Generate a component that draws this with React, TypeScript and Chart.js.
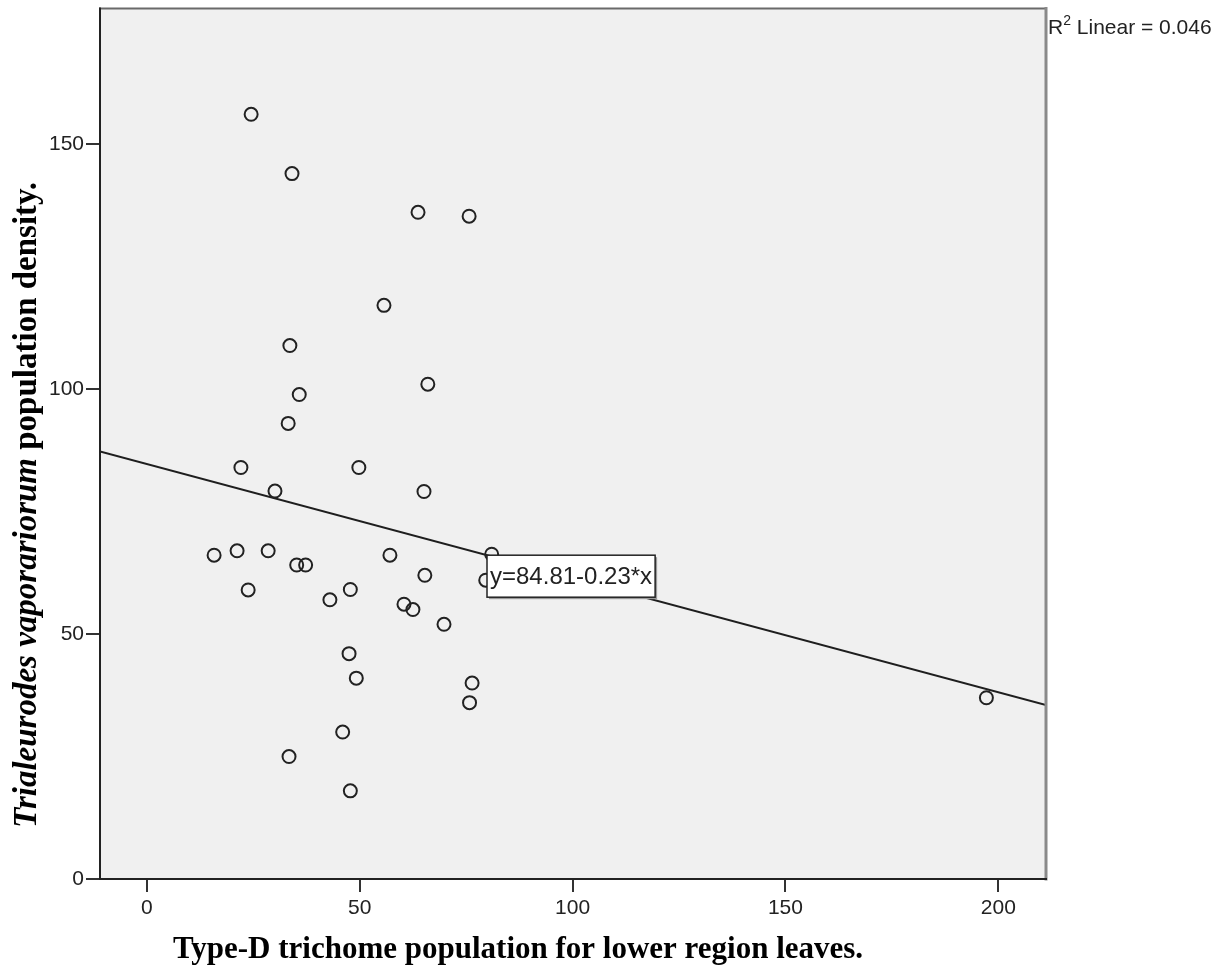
import React, { useEffect, useRef } from "react";
import { Chart, registerables } from "chart.js";

Chart.register(...registerables);

// Observed points (Type-D trichome population, T. vaporariorum density)
const trichomeX = [
  24.5, 34.1, 63.7, 75.7, 55.7, 33.6, 66.0, 35.8, 33.2, 22.1, 49.8, 30.1,
  65.1, 15.8, 21.2, 28.5, 35.2, 37.3, 57.1, 81.0, 65.3, 79.6, 23.8, 47.8,
  43.0, 60.4, 62.5, 69.8, 47.5, 49.2, 76.4, 75.8, 46.0, 33.4, 47.8, 197.2,
];
const densityY = [
  156.1, 144.0, 136.1, 135.3, 117.1, 108.9, 101.0, 98.9, 93.0, 84.0, 84.0, 79.2,
  79.1, 66.1, 67.0, 67.0, 64.1, 64.1, 66.1, 66.3, 62.0, 61.0, 59.0, 59.1,
  57.0, 56.1, 55.0, 52.0, 46.0, 41.0, 40.0, 36.0, 30.0, 25.0, 18.0, 37.0,
];

// Fit line endpoints (spans the full x range)
const fitX = [-11, 211.2];
const fitY = [87.3, 35.5];

const xTicks = [0, 50, 100, 150, 200];
const yTicks = [0, 50, 100, 150];

const xTitle = "Type-D trichome population for lower region leaves.";
const yTitleItalic = "Trialeurodes vaporariorum";
const yTitleRest = " population density.";
const fitLabel = "y=84.81-0.23*x";
const fitLabelAnchor = { x: 79.9, y: 66.1 };
const r2Label = { pre: "R", sup: "2", post: " Linear = 0.046" };

const SANS = '"Liberation Sans", Arial, sans-serif';
const SERIF = '"Liberation Serif", "Times New Roman", serif';

const framePlugin = {
  id: "framePlugin",
  beforeDatasetsDraw(chart: any) {
    const { ctx, chartArea: a } = chart;
    ctx.save();
    ctx.fillStyle = "#f0f0f0";
    ctx.fillRect(a.left, a.top, a.right - a.left, a.bottom - a.top);
    ctx.restore();
  },
  afterDraw(chart: any) {
    const { ctx, chartArea: a } = chart;
    const xs = chart.scales.x;
    const ys = chart.scales.y;
    ctx.save();
    // frame
    ctx.lineCap = "square";
    ctx.strokeStyle = "#6a6a6a";
    ctx.lineWidth = 2;
    ctx.beginPath();
    ctx.moveTo(a.left, a.top);
    ctx.lineTo(a.right, a.top);
    ctx.stroke();
    ctx.strokeStyle = "#8a8a8a";
    ctx.lineWidth = 3;
    ctx.beginPath();
    ctx.moveTo(a.right, a.top);
    ctx.lineTo(a.right, a.bottom);
    ctx.stroke();
    ctx.strokeStyle = "#222";
    ctx.lineWidth = 2;
    ctx.beginPath();
    ctx.moveTo(a.left, a.top);
    ctx.lineTo(a.left, a.bottom);
    ctx.lineTo(a.right, a.bottom);
    ctx.stroke();

    // fit label box
    ctx.font = `24px ${SANS}`;
    const w = ctx.measureText(fitLabel).width;
    const bx = xs.getPixelForValue(fitLabelAnchor.x);
    const by = ys.getPixelForValue(fitLabelAnchor.y);
    const bw = w + 6;
    const bh = 42;
    ctx.fillStyle = "#9a9a9a";
    ctx.fillRect(bx + 2, by + 2, bw, bh);
    ctx.fillStyle = "#ffffff";
    ctx.fillRect(bx, by, bw, bh);
    ctx.strokeStyle = "#222";
    ctx.lineWidth = 1.5;
    ctx.strokeRect(bx, by, bw, bh);
    ctx.fillStyle = "#222";
    ctx.textBaseline = "middle";
    ctx.textAlign = "left";
    ctx.fillText(fitLabel, bx + 3, by + bh / 2 + 1);

    // R2 label
    ctx.textBaseline = "alphabetic";
    ctx.font = `21px ${SANS}`;
    let rx = a.right + 2;
    const ry = a.top + 25;
    ctx.fillText(r2Label.pre, rx, ry);
    rx += ctx.measureText(r2Label.pre).width;
    ctx.font = `14px ${SANS}`;
    ctx.fillText(r2Label.sup, rx, ry - 9);
    rx += ctx.measureText(r2Label.sup).width;
    ctx.font = `21px ${SANS}`;
    ctx.fillText(r2Label.post, rx, ry);

    // x title
    ctx.fillStyle = "#000";
    ctx.font = `bold 31px ${SERIF}`;
    ctx.textAlign = "center";
    ctx.fillText(xTitle, 518, 958);

    // y title (rotated, mixed italic)
    ctx.translate(36, 505);
    ctx.rotate(-Math.PI / 2);
    ctx.textAlign = "left";
    ctx.font = `italic bold 33px ${SERIF}`;
    const w1 = ctx.measureText(yTitleItalic).width;
    ctx.font = `bold 33px ${SERIF}`;
    const w2 = ctx.measureText(yTitleRest).width;
    const start = -(w1 + w2) / 2;
    ctx.font = `italic bold 33px ${SERIF}`;
    ctx.fillText(yTitleItalic, start, 0);
    ctx.font = `bold 33px ${SERIF}`;
    ctx.fillText(yTitleRest, start + w1, 0);
    ctx.restore();
  },
};

export default function App() {
  const ref = useRef<HTMLCanvasElement>(null);
  useEffect(() => {
    if (!ref.current) return;
    const points = trichomeX.map((x, i) => ({ x, y: densityY[i] }));
    const line = fitX.map((x, i) => ({ x, y: fitY[i] }));
    const chart = new Chart(ref.current, {
      type: "scatter",
      data: {
        datasets: [
          {
            data: line,
            showLine: true,
            borderColor: "#1e1e1e",
            borderWidth: 2,
            pointRadius: 0,
            order: 2,
          },
          {
            data: points,
            pointStyle: "circle",
            pointRadius: 6.5,
            pointBorderWidth: 2,
            pointBorderColor: "#222",
            pointBackgroundColor: "rgba(0,0,0,0)",
            order: 1,
          },
        ],
      },
      options: {
        animation: false,
        responsive: false,
        events: [],
        layout: { padding: { left: 0, top: 8, right: 185, bottom: 0 } },
        plugins: { legend: { display: false }, tooltip: { enabled: false } },
        scales: {
          x: {
            type: "linear",
            min: -11,
            max: 211.2,
            afterFit: (s: any) => {
              s.height = 96;
              s.paddingLeft = 0;
              s.paddingRight = 0;
            },
            afterBuildTicks: (s: any) => {
              s.ticks = xTicks.map((v) => ({ value: v }));
            },
            border: { display: false },
            grid: {
              drawOnChartArea: false,
              drawTicks: true,
              tickLength: 13,
              color: "#333",
              lineWidth: 2,
            },
            ticks: {
              padding: 4,
              color: "#222",
              font: { family: SANS, size: 21 },
              maxRotation: 0,
            },
          },
          y: {
            type: "linear",
            min: 0,
            max: 177.7,
            afterFit: (s: any) => {
              s.width = 100;
              s.paddingTop = 0;
              s.paddingBottom = 0;
            },
            afterBuildTicks: (s: any) => {
              s.ticks = yTicks.map((v) => ({ value: v }));
            },
            border: { display: false },
            grid: {
              drawOnChartArea: false,
              drawTicks: true,
              tickLength: 14,
              color: "#333",
              lineWidth: 2,
            },
            ticks: {
              padding: 2,
              color: "#222",
              font: { family: SANS, size: 21 },
            },
          },
        },
      },
      plugins: [framePlugin],
    });
    return () => chart.destroy();
  }, []);
  return (
    <div style={{ position: "absolute", left: 0, top: 0, width: 1231, height: 975, background: "#fff" }}>
      <canvas ref={ref} width={1231} height={975} style={{ display: "block", width: 1231, height: 975 }} />
    </div>
  );
}
